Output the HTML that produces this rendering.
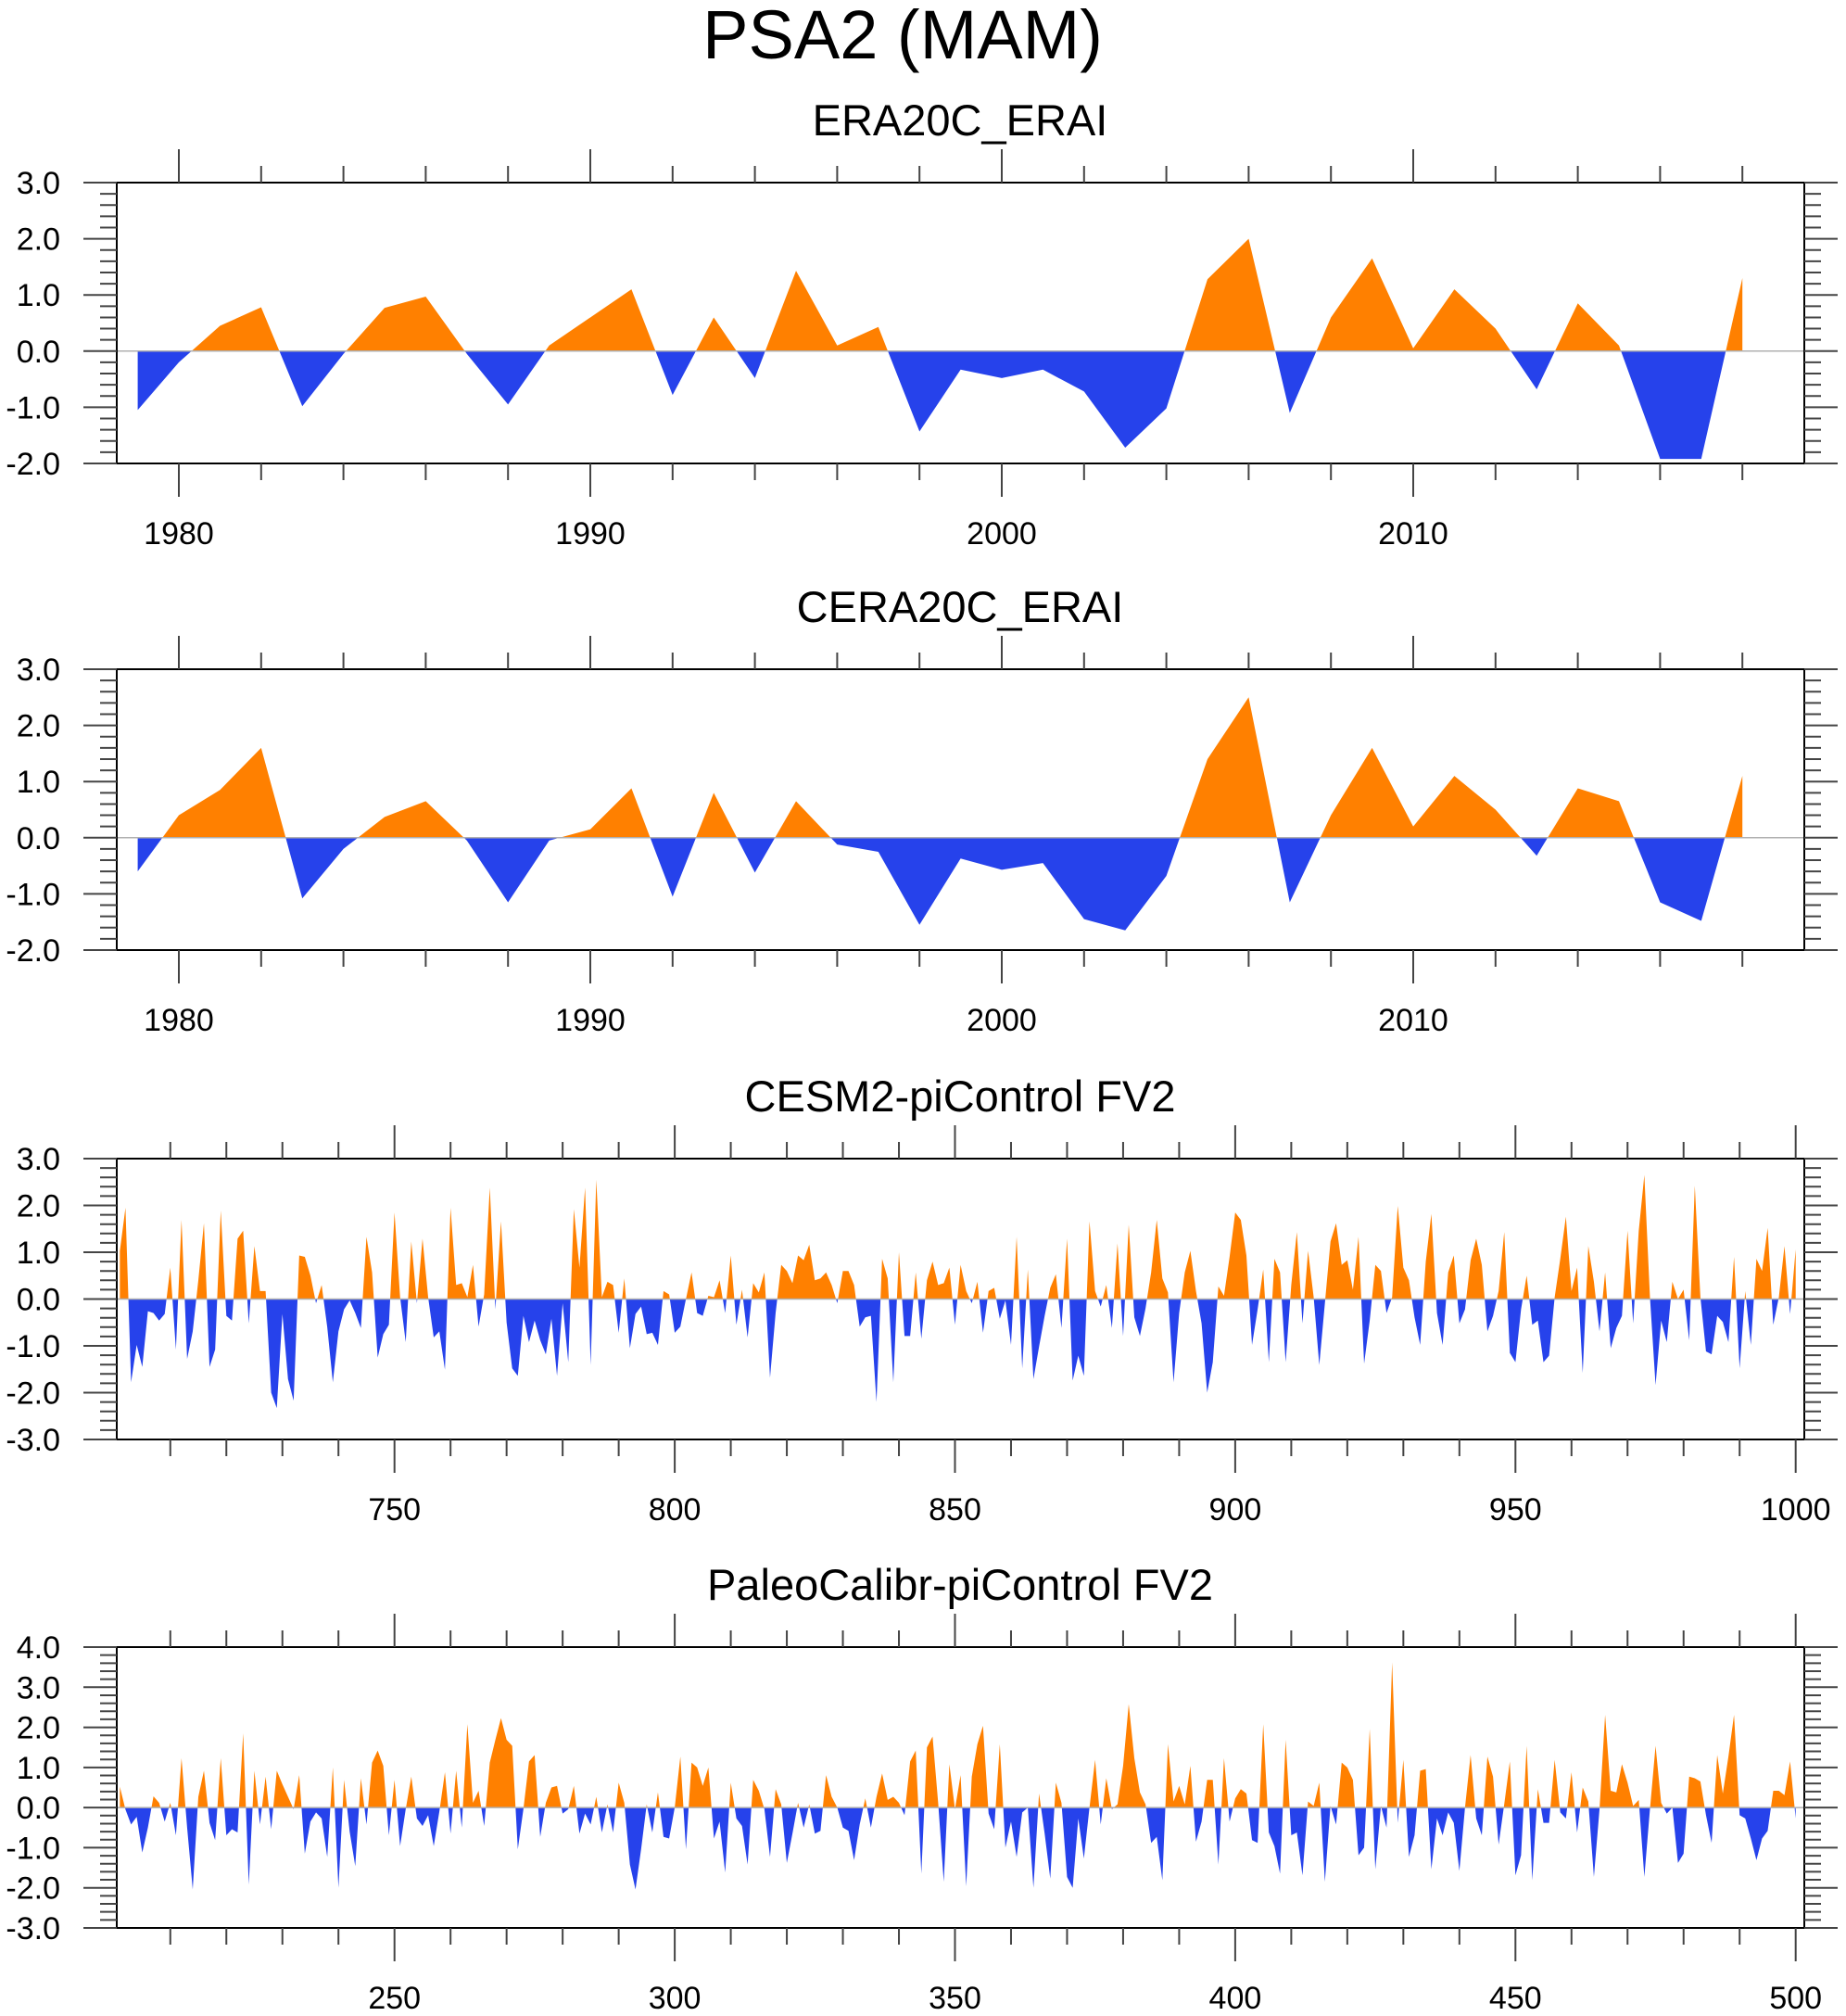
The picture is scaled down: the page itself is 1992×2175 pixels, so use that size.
<!DOCTYPE html>
<html><head><meta charset="utf-8">
<style>
html,body{margin:0;padding:0;background:#fff;}
svg{display:block;font-family:"Liberation Sans",Arial,sans-serif;}
</style></head>
<body>
<svg id="chart" width="1992" height="2175" viewBox="0 0 1992 2175" xmlns="http://www.w3.org/2000/svg">
<text x="974" y="63" font-size="74" text-anchor="middle">PSA2 (MAM)</text>
</svg>
<script>
// ---- data ----
const eraStartYear = 1979;
const era20cValues = [-1.05,-0.2,0.45,0.78,-0.98,-0.05,0.77,0.97,-0.05,-0.95,0.1,0.6,1.1,-0.78,0.6,-0.48,1.43,0.1,0.43,-1.43,-0.33,-0.48,-0.33,-0.72,-1.72,-1.02,1.28,2.0,-1.1,0.6,1.65,0.05,1.1,0.4,-0.68,0.85,0.1,-1.92,-1.92,1.3];
const cera20cValues = [-0.6,0.4,0.85,1.6,-1.08,-0.2,0.37,0.65,-0.05,-1.15,-0.05,0.15,0.88,-1.05,0.8,-0.62,0.65,-0.12,-0.25,-1.55,-0.37,-0.57,-0.45,-1.45,-1.65,-0.68,1.4,2.5,-1.15,0.4,1.6,0.2,1.1,0.5,-0.32,0.88,0.65,-1.15,-1.48,1.1];
const eraTickLabels = [1980,1990,2000,2010];
const cesmStartYear = 701;
const cesmValues = [1.03,1.95,-1.78,-0.98,-1.45,-0.26,-0.3,-0.46,-0.32,0.67,
-1.08,1.69,-1.28,-0.69,0.4,1.62,-1.45,-1.08,1.89,-0.36,
-0.46,1.29,1.46,-0.52,1.13,0.17,0.17,-2.0,-2.33,-0.32,
-1.71,-2.17,0.93,0.9,0.5,-0.09,0.3,-0.6,-1.78,-0.69,
-0.22,-0.03,-0.3,-0.62,1.33,0.57,-1.25,-0.75,-0.55,1.85,
0.04,-0.92,1.23,-0.09,1.29,0.04,-0.82,-0.69,-1.51,1.95,
0.3,0.34,0.04,0.73,-0.59,0.1,2.38,-0.22,1.66,-0.5,
-1.48,-1.64,-0.36,-0.92,-0.46,-0.88,-1.18,-0.42,-1.64,-0.09,
-1.35,1.92,0.67,2.38,-1.41,2.55,0.04,0.37,0.3,-0.72,
0.44,-1.05,-0.32,-0.16,-0.75,-0.72,-0.98,0.17,0.1,-0.72,
-0.59,0,0.57,-0.3,-0.36,0.07,0.04,0.4,-0.3,0.93,
-0.55,0.2,-0.82,0.34,0.14,0.57,-1.68,-0.3,0.73,0.6,
0.34,0.93,0.83,1.16,0.4,0.44,0.57,0.3,-0.09,0.6,
0.6,0.3,-0.59,-0.39,-0.36,-2.2,0.86,0.44,-1.78,1.0,
-0.79,-0.79,0.57,-0.85,0.4,0.8,0.3,0.34,0.67,-0.55,
0.73,0.17,-0.09,0.37,-0.72,0.17,0.24,-0.42,-0.03,-0.98,
1.33,-1.48,0.63,-1.71,-1.02,-0.36,0.24,0.53,-0.62,1.29,
-1.74,-1.21,-1.64,1.66,0.17,-0.16,0.3,-0.62,1.19,-0.79,
1.59,-0.39,-0.79,-0.2,0.57,1.69,0.44,0.14,-1.78,-0.3,
0.57,1.03,0.17,-0.52,-2.0,-1.35,0.27,0.07,0.9,1.85,
1.69,0.93,
-0.98,-0.22,0.63,-1.35,0.86,0.57,-1.35,0.3,1.43,-0.52,
1.03,0.04,-1.41,-0.09,1.23,1.62,0.73,0.83,0.2,1.33,
-1.38,-0.46,0.73,0.6,-0.3,0.04,1.99,0.67,0.4,-0.39,
-0.98,0.8,1.82,-0.3,-0.98,0.57,0.93,-0.52,-0.22,0.83,
1.29,0.73,-0.69,-0.36,0.17,1.43,-1.15,-1.35,-0.22,0.5,
-0.55,-0.46,-1.35,-1.21,0.04,0.86,1.76,0.17,0.67,-1.58,
1.13,0.37,-0.69,0.57,-1.05,-0.62,-0.36,1.46,-0.52,1.46,
2.65,0.04,-1.84,-0.46,-0.92,0.37,0,0.2,-0.88,2.42,
0.04,-1.12,-1.18,-0.36,-0.49,-0.92,0.9,-1.48,0.17,-0.98,
0.86,0.6,1.52,-0.55,0.04,1.13,-0.32,1.06];
const cesmTickLabels = [750,800,850,900,950,1000];
const paleoStartYear = 201;
const paleoValues = [0.52,-0.05,-0.42,-0.23,-1.12,-0.5,0.28,0.12,-0.35,0.12,
-0.69,1.23,-0.5,-2.04,0.27,0.92,-0.38,-0.81,1.23,-0.69,
-0.54,-0.62,1.85,-1.92,0.92,-0.42,0.77,-0.54,0.92,0.58,
0.27,-0.04,0.81,-1.15,-0.35,-0.12,-0.27,-1.23,1.0,-2.0,
0.69,-0.6,-1.46,0.73,-0.42,1.12,1.42,1.04,-0.69,0.69,
-0.96,-0.04,0.77,-0.27,-0.46,-0.19,-0.96,-0.1,0.88,-0.65,
0.92,-0.5,2.08,0.12,0.42,-0.46,1.12,1.69,2.23,1.69,
1.54,-1.04,-0.04,1.15,1.31,-0.73,0.12,0.5,0.54,-0.15,
-0.04,0.54,-0.65,-0.15,-0.42,0.27,-0.62,0.08,-0.62,0.62,
0.12,-1.42,-2.04,-1.04,0.08,-0.62,0.38,-0.73,-0.77,0,
1.27,
-1.04,1.12,1.0,0.54,1.0,-0.77,-0.35,-1.62,0.62,-0.27,
-0.46,-1.42,0.69,0.42,-0.04,-1.23,0.46,0.08,-1.38,-0.65,
0.12,-0.5,0.08,-0.65,-0.58,0.81,0.27,0,-0.5,-0.58,
-1.31,-0.42,0.23,-0.5,0.27,0.85,0.19,0.27,0.12,-0.19,
1.15,1.42,-1.65,1.5,1.77,0.12,-1.85,1.08,-0.04,0.81,
-1.96,0.77,1.58,2.04,-0.15,-0.54,1.58,-1.0,-0.35,-1.23,
-0.12,0,-2.0,0.35,-0.65,-1.77,0.62,0.12,-1.73,-2.0,
-0.27,-1.27,0,1.19,-0.42,0.73,-0.04,0.08,1.04,2.58,
1.23,0.38,0.08,-0.88,-0.73,-1.81,1.58,0.15,0.54,0.08,
1.04,-0.85,-0.35,0.69,0.69,-1.42,1.23,-0.35,0.23,0.46,
0.35,
-0.81,-0.88,2.08,-0.62,-0.96,-1.65,1.69,-0.69,-0.62,-1.69,
0.15,0.04,0.62,-1.85,0.04,-0.42,1.12,1.0,0.69,-1.19,
-1.0,1.96,-1.54,0.04,-0.5,3.62,-0.38,1.19,-1.23,-0.69,
0.92,0.96,-1.54,-0.27,-0.69,-0.12,-0.38,-1.58,0,1.31,
-0.27,-0.69,1.27,0.77,-0.92,0.08,1.15,-1.69,-1.19,1.54,
-1.81,0.46,-0.38,-0.38,1.19,-0.12,-0.27,0.88,-0.62,0.5,
0.15,-1.73,-0.04,2.31,0.42,0.38,1.08,0.62,0.04,0.19,
-1.73,-0.04,1.54,0.12,-0.15,0,-1.38,-1.15,0.77,0.73,
0.65,-0.19,-0.88,1.31,0.35,1.27,2.31,-0.19,-0.27,-0.77,
-1.31,-0.77,-0.58,0.42,0.42,0.31,1.15,-0.27];
const paleoTickLabels = [250,300,350,400,450,500];

// ---- drawing ----
const NS = "http://www.w3.org/2000/svg";
const svg = document.getElementById('chart');
const L = 126, R = 1947;
function mk(tag, attrs, parent){
  const e = document.createElementNS(NS, tag);
  for (const k in attrs) e.setAttribute(k, attrs[k]);
  (parent||svg).appendChild(e);
  return e;
}
function panel(cfg){
  const top = cfg.top, bot = cfg.top + 303;
  const g = mk('g', {});
  
  
  const x = v => cfg.x0 + (v - cfg.xRef) * cfg.xPer;
  const y = v => bot - (v - cfg.yMin) / (cfg.yMax - cfg.yMin) * (bot - top);
  const t = mk('text', {x: 1036, y: top - 51, 'font-size': 47, 'text-anchor': 'middle'}, g);
  t.textContent = cfg.title;
  
  
  const id = cfg.name + '-clip';
  const defs = mk('defs', {}, g);
  const cp1 = mk('clipPath', {id: id + '-pos'}, defs);
  mk('rect', {x: L, y: top, width: R - L, height: y(0) - top}, cp1);
  const cp2 = mk('clipPath', {id: id + '-neg'}, defs);
  mk('rect', {x: L, y: y(0), width: R - L, height: bot - y(0)}, cp2);
  const vals = cfg.values;
  let d = 'M' + x(cfg.start) + ',' + y(0);
  vals.forEach((v, i) => { d += ' L' + x(cfg.start + i).toFixed(2) + ',' + y(v).toFixed(2); });
  d += ' L' + x(cfg.start + vals.length - 1) + ',' + y(0) + ' Z';
  const pos = mk('path', {d: d, fill: '#ff8000', 'clip-path': 'url(#' + id + '-pos)'}, g);
  
  
  const neg = mk('path', {d: d, fill: '#2642eb', 'clip-path': 'url(#' + id + '-neg)'}, g);
  
  
  const zl = mk('line', {x1: L, x2: R, y1: y(0), y2: y(0), stroke: '#b0b0b0', 'stroke-width': 1.5}, g);
  
  
  const fr = mk('rect', {x: L, y: top, width: R - L, height: bot - top, fill: 'none', stroke: '#000', 'stroke-width': 2}, g);
  
  
  for (let k = 0; k <= Math.round((cfg.yMax - cfg.yMin) / 0.2); k++) {
    const v = cfg.yMin + k * 0.2;
    const major = k % 5 === 0;
    const len = major ? 36 : 18;
    const yy = y(v);
    mk('line', {x1: L - len, x2: L, y1: yy, y2: yy, stroke: '#444', 'stroke-width': 2}, g);
    mk('line', {x1: R, x2: R + len, y1: yy, y2: yy, stroke: '#444', 'stroke-width': 2}, g);
    if (major) {
      const lb = mk('text', {x: 65, y: yy + 12, 'font-size': 34, 'text-anchor': 'end'}, g);
      lb.textContent = v.toFixed(1);
      
      
    }
  }
  for (let v = cfg.minorStart; x(v) <= R + 0.5; v += cfg.minorStep) {
    if (x(v) < L) continue;
    const major = cfg.ticks.indexOf(v) >= 0;
    const len = major ? 36 : 18;
    mk('line', {x1: x(v), x2: x(v), y1: top - len, y2: top, stroke: '#444', 'stroke-width': 2}, g);
    mk('line', {x1: x(v), x2: x(v), y1: bot, y2: bot + len, stroke: '#444', 'stroke-width': 2}, g);
  }
  cfg.ticks.forEach(v => {
    const lb = mk('text', {x: x(v), y: bot + 87, 'font-size': 34, 'text-anchor': 'middle'}, g);
    lb.textContent = v;
    
    
  });
}
panel({name: 'era20c-panel', title: 'ERA20C_ERAI', top: 197, values: era20cValues, start: eraStartYear,
  x0: 193, xRef: 1980, xPer: 44.4, yMin: -2, yMax: 3, ticks: eraTickLabels, minorStart: 1978, minorStep: 2});
panel({name: 'cera20c-panel', title: 'CERA20C_ERAI', top: 722, values: cera20cValues, start: eraStartYear,
  x0: 193, xRef: 1980, xPer: 44.4, yMin: -2, yMax: 3, ticks: eraTickLabels, minorStart: 1978, minorStep: 2});
panel({name: 'cesm2-panel', title: 'CESM2-piControl FV2', top: 1250, values: cesmValues, start: cesmStartYear,
  x0: 425.7, xRef: 750, xPer: 6.048, yMin: -3, yMax: 3, ticks: cesmTickLabels, minorStart: 700, minorStep: 10});
panel({name: 'paleo-panel', title: 'PaleoCalibr-piControl FV2', top: 1777, values: paleoValues, start: paleoStartYear,
  x0: 425.7, xRef: 250, xPer: 6.048, yMin: -3, yMax: 4, ticks: paleoTickLabels, minorStart: 200, minorStep: 10});
</script>
</body></html>
